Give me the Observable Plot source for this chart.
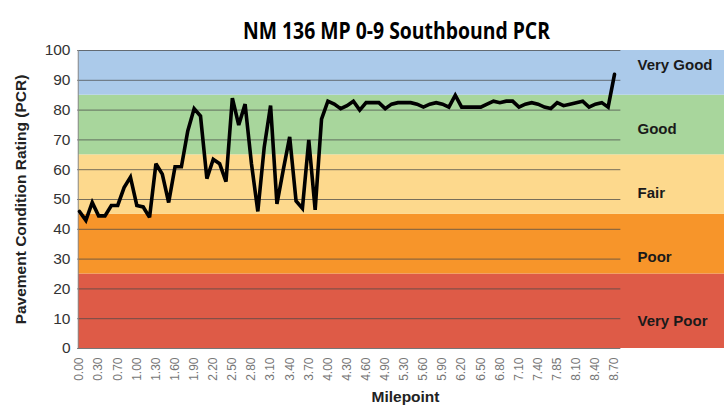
<!DOCTYPE html>
<html>
<head>
<meta charset="utf-8">
<script src="https://cdn.jsdelivr.net/npm/d3@7"></script>
<script src="https://cdn.jsdelivr.net/npm/@observablehq/plot@0.6"></script>
<style>
  html, body { margin: 0; padding: 0; background: #fff; }
  #chart svg { display: block; }
</style>
</head>
<body>
<div id="chart"></div>
<script>
const title = "NM 136 MP 0-9 Southbound PCR";
const xLabel = "Milepoint";
const yLabel = "Pavement Condition Rating (PCR)";

const milepoints = [
  "0.00","0.10","0.20","0.30","0.40","0.60","0.70","0.80","0.90","1.00",
  "1.10","1.20","1.30","1.40","1.50","1.60","1.70","1.80","1.90","2.00",
  "2.10","2.20","2.30","2.40","2.50","2.60","2.70","2.80","2.90","3.00",
  "3.10","3.20","3.30","3.40","3.50","3.60","3.70","3.80","3.90","4.00",
  "4.10","4.20","4.30","4.40","4.50","4.60","4.70","4.80","4.90","5.00",
  "5.20","5.30","5.40","5.50","5.60","5.70","5.80","5.90","6.00","6.10",
  "6.20","6.30","6.40","6.50","6.60","6.70","6.80","6.90","7.00","7.10",
  "7.20","7.30","7.40","7.50","7.70","7.85","7.90","8.00","8.10","8.20",
  "8.30","8.40","8.50","8.60","8.70"
];

const pcr = [
  46, 43, 49, 44.5, 44.5, 48, 48, 54, 57.5, 48,
  47.5, 44, 62, 58.5, 49, 61, 61, 73, 80.5, 78,
  57, 63.5, 62, 56, 84, 75, 82, 62, 46, 67.5,
  81.5, 48.5, 60, 71, 49.5, 47, 70, 46.5, 77, 83,
  82, 80.5, 81.5, 83, 80, 82.5, 82.5, 82.5, 80.5, 82,
  82.5, 82.5, 82.5, 82, 81, 82, 82.5, 82, 81, 85,
  81, 81, 81, 81, 82, 83, 82.5, 83, 83, 81,
  82, 82.5, 82, 81, 80.5, 82.5, 81.5, 82, 82.5, 83,
  81, 82, 82.5, 81, 92
];

const tickLabels = ["0.00","0.30","0.70","1.00","1.30","1.60","1.90","2.20","2.50","2.80",
  "3.10","3.40","3.70","4.00","4.30","4.60","4.90","5.30","5.60","5.90",
  "6.20","6.50","6.80","7.10","7.40","7.85","8.10","8.40","8.70"];

const bandNames = ["Very Poor", "Poor", "Fair", "Good", "Very Good"];
const bandLow   = [0, 25, 45, 65, 85];
const bandHigh  = [25, 45, 65, 85, 100];
const bandLabelAt = [9, 30.5, 52, 73.5, 95];
const yTicks = [0, 10, 20, 30, 40, 50, 60, 70, 80, 90, 100];

// styles
const bandColors = ["#de5b47", "#f7952a", "#fdd98d", "#a8d69c", "#abcaea"];

const series = pcr.map((v, i) => ({i, v}));
const bands = bandNames.map((name, k) => ({
  name, lo: bandLow[k], hi: bandHigh[k], at: bandLabelAt[k], color: bandColors[k]
}));
const tickIdx = tickLabels.map(t => milepoints.indexOf(t));
const last = milepoints.length - 1;

const chart = Plot.plot({
  width: 724,
  height: 409,
  marginLeft: 78,
  marginRight: 0,
  marginTop: 50,
  marginBottom: 61,
  style: {fontFamily: "'Liberation Sans', Arial, sans-serif", background: "#fff"},
  x: {type: "linear", domain: [0, last], range: [79, 614]},
  y: {domain: [0, 100], range: [348, 50]},
  color: {type: "identity"},
  marks: [
    Plot.rect(bands, {y1: "lo", y2: "hi", fill: "color"}),
    Plot.ruleY(yTicks, {x1: -0.3, x2: last + 1, stroke: "#4a4a4a", strokeOpacity: 0.75, strokeWidth: 1}),
    Plot.ruleX([-0.2], {y1: 0, y2: 100, stroke: "#888", strokeWidth: 1}),
    Plot.line(series, {x: "i", y: "v", stroke: "#000", strokeWidth: 3.6, strokeLinejoin: "miter", strokeMiterlimit: 3}),
    Plot.axisY({ticks: yTicks, tickSize: 0, tickPadding: 8, fontSize: 15.5, color: "#333", label: null}),
    Plot.axisX({ticks: tickIdx, tickFormat: i => milepoints[i], tickRotate: -90, tickSize: 0, tickPadding: 9, fontSize: 12, color: "#777", label: null}),
    Plot.text(bands, {frameAnchor: "right", dx: -87, y: "at", text: "name", textAnchor: "start", fontSize: 15, fontWeight: "bold", fill: "#1a1a1a"}),
    Plot.text([title], {frameAnchor: "top", dx: -5, dy: -29, fontSize: 24, fontWeight: "bold", fill: "#000",
      fontFamily: "'Open Sans', sans-serif", className: "chart-title"}),
    Plot.text([yLabel], {frameAnchor: "left", textAnchor: "middle", dx: -57, rotate: -90, fontSize: 15.5, fontWeight: "bold", fill: "#222"}),
    Plot.text([xLabel], {frameAnchor: "bottom", textAnchor: "middle", dx: 4, dy: 53, fontSize: 15.5, fontWeight: "bold", fill: "#222"})
  ]
});
// condense the title like the reference's narrow bold face
d3.select(chart).selectAll(".chart-title text")
  .attr("textLength", 307)
  .attr("lengthAdjust", "spacingAndGlyphs");
document.getElementById("chart").appendChild(chart);
</script>
</body>
</html>
